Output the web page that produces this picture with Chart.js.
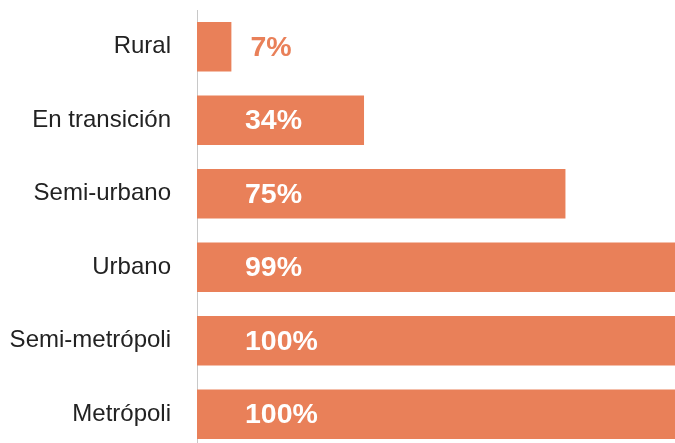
<!DOCTYPE html>
<html>
<head>
<meta charset="utf-8">
<script src="https://cdn.jsdelivr.net/npm/chart.js@4/dist/chart.umd.min.js"></script>
<style>
html,body{margin:0;padding:0;background:#fff;overflow:hidden;}
canvas{display:block;}
</style>
</head>
<body>
<canvas id="c" width="675" height="451"></canvas>
<script>
const categories = ["Rural", "En transición", "Semi-urbano", "Urbano", "Semi-metrópoli", "Metrópoli"];
const values = [7, 34, 75, 99, 100, 100];
const valueLabels = ["7%", "34%", "75%", "99%", "100%", "100%"];

const barColor = "rgb(233,128,89)";

const labelPlugin = {
  id: "barLabels",
  afterDatasetsDraw(chart) {
    const ctx = chart.ctx;
    const meta = chart.getDatasetMeta(0);
    ctx.save();
    ctx.font = "bold 28.5px 'Liberation Sans', Arial, sans-serif";
    ctx.textBaseline = "middle";
    ctx.textAlign = "left";
    meta.data.forEach((bar, i) => {
      const txt = valueLabels[i];
      const w = ctx.measureText(txt).width;
      const insideX = bar.base + 48;
      if (insideX + w + 6 < bar.x) {
        ctx.fillStyle = "#ffffff";
        ctx.fillText(txt, insideX, bar.y + 1);
      } else {
        ctx.fillStyle = barColor;
        ctx.fillText(txt, bar.x + 19, bar.y + 1);
      }
    });
    ctx.restore();
  }
};

new Chart(document.getElementById("c"), {
  type: "bar",
  data: {
    labels: categories,
    datasets: [{
      data: values,
      backgroundColor: barColor,
      borderWidth: 0,
      categoryPercentage: 1,
      barPercentage: 0.676
    }]
  },
  options: {
    indexAxis: "y",
    responsive: false,
    maintainAspectRatio: false,
    animation: false,
    devicePixelRatio: 1,
    layout: { padding: { top: 10, bottom: 0, left: 0, right: 0 } },
    plugins: { legend: { display: false }, tooltip: { enabled: false } },
    scales: {
      x: {
        display: false,
        min: 0,
        max: 97.3
      },
      y: {
        afterFit(scale) {
          scale.width = 197;
          scale.paddingTop = 0;
          scale.paddingBottom = 0;
        },
        grid: { display: false, drawTicks: false },
        border: { display: true, color: "#c8c8c8", width: 1 },
        ticks: {
          padding: 26,
          color: "#222222",
          font: { family: "'Liberation Sans', Arial, sans-serif", size: 24 }
        }
      }
    }
  },
  plugins: [labelPlugin]
});
</script>
</body>
</html>
